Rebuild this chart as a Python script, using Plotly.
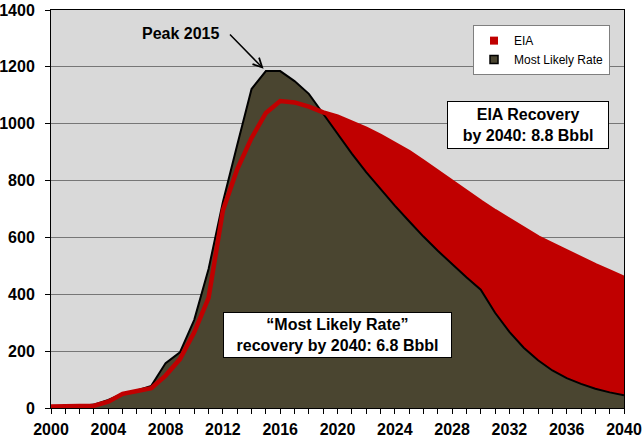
import plotly.graph_objects as go

years = list(range(2000, 2041))
eia = [5, 5, 6, 8, 22, 50, 60, 70, 114, 172,
       266, 387, 695, 840, 950, 1038, 1080, 1075, 1060, 1040,
       1025, 1005, 982, 957, 930, 900, 866, 830, 795, 760,
       725, 692, 660, 630, 600, 575, 550, 525, 502, 480, 457]
most_likely = [5, 5, 6, 12, 28, 50, 62, 78, 158, 196,
               310, 489, 725, 925, 1122, 1185, 1185, 1150, 1105, 1035,
               965, 895, 830, 770, 712, 657, 603, 553, 505, 460,
               416, 335, 268, 212, 168, 132, 105, 85, 68, 55, 45]
y_ticks = [0, 200, 400, 600, 800, 1000, 1200, 1400]
x_ticks = list(range(2000, 2041, 4))

RED = "#C00000"
OLIVE = "#4A4530"
FONT = "Liberation Sans, Arial, sans-serif"

fig = go.Figure()
fig.add_trace(go.Scatter(x=years, y=eia, fill="tozeroy", fillcolor=RED,
                         mode="none", showlegend=False, hoverinfo="skip"))
fig.add_trace(go.Scatter(x=years, y=most_likely, fill="tozeroy", fillcolor=OLIVE,
                         mode="lines", line=dict(color="black", width=2),
                         showlegend=False, hoverinfo="skip"))
fig.add_trace(go.Scatter(x=years, y=eia, mode="lines",
                         line=dict(color=RED, width=4.5), showlegend=False))
# legend entries
fig.add_trace(go.Scatter(x=[None], y=[None], mode="markers", name="EIA",
                         marker=dict(symbol="square", size=8, color=RED)))
fig.add_trace(go.Scatter(x=[None], y=[None], mode="markers", name="Most Likely Rate",
                         marker=dict(symbol="square", size=8, color=OLIVE,
                                     line=dict(color="black", width=1.5))))

fig.update_layout(
    width=643, height=438,
    margin=dict(l=51, r=19, t=10, b=30),
    paper_bgcolor="white", plot_bgcolor="#D9D9D9",
    font=dict(family=FONT, color="black"),
    legend=dict(x=0.9756, y=0.962, xanchor="right", yanchor="top",
                bgcolor="white", bordercolor="#7F7F7F", borderwidth=1,
                font=dict(size=12, family=FONT), itemwidth=30),
    xaxis=dict(range=[2000, 2040], tickvals=x_ticks, ticktext=[str(t) for t in x_ticks],
               showgrid=False, zeroline=False, showline=True, linecolor="black",
               linewidth=1, mirror=True, ticks="outside", ticklen=5, tickcolor="black",
               tickfont=dict(size=16, family=FONT, weight="bold"),
               minor=dict(dtick=1, ticks="outside", ticklen=5, tickcolor="black"),
               ticklabelstandoff=2, automargin=False),
    yaxis=dict(range=[0, 1400], tickvals=y_ticks, showgrid=True, gridcolor="#767676",
               gridwidth=1, zeroline=False, showline=True, linecolor="black",
               linewidth=1, mirror=True, ticks="outside", ticklen=5, tickcolor="black",
               tickfont=dict(size=16, family=FONT, weight="bold"),
               ticklabelstandoff=7, automargin=False),
)

fig.add_annotation(x=2009.08, y=1319, text="<b>Peak 2015</b>", showarrow=False,
                   font=dict(size=16, family=FONT, color="black"))
fig.add_annotation(x=2014.84, y=1193, ax=2012.39, ay=1319, axref="x", ayref="y",
                   text="", showarrow=True, arrowhead=5, arrowsize=1.2,
                   arrowwidth=1.5, arrowcolor="black")
fig.add_annotation(x=2033.29, y=996, text="<b>EIA Recovery<br>by 2040: 8.8 Bbbl</b>",
                   showarrow=False, font=dict(size=16, family=FONT, color="black"),
                   bgcolor="white", bordercolor="black", borderwidth=1,
                   width=156, height=42, borderpad=2)
fig.add_annotation(x=2019.99, y=258,
                   text="<b>\u201cMost Likely Rate\u201d<br>recovery by 2040: 6.8 Bbbl</b>",
                   showarrow=False, font=dict(size=16, family=FONT, color="black"),
                   bgcolor="white", bordercolor="black", borderwidth=1,
                   width=223, height=40, borderpad=2)

fig.write_html("out.html", config={"displayModeBar": False},
               post_script="document.body.style.margin='0';document.body.style.overflow='hidden';")
